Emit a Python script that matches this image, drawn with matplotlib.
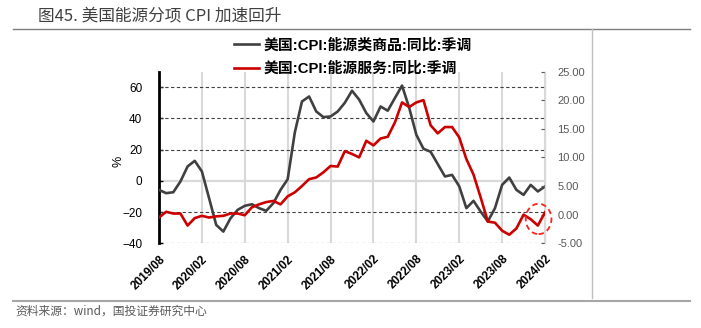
import matplotlib
matplotlib.use('Agg')
import matplotlib.pyplot as plt
from matplotlib.patches import Ellipse
from matplotlib.lines import Line2D
from matplotlib.ticker import FuncFormatter
import numpy as np
import pandas as pd

# ---------------- data ----------------
months = list(pd.date_range('2019-08-01', periods=55, freq='MS').strftime('%Y/%m'))
tick_labels = ['2019/08', '2020/02', '2020/08', '2021/02', '2021/08',
               '2022/02', '2022/08', '2023/02', '2023/08', '2024/02']
energy_goods = [-5.8, -7.9, -7.3, -0.4, 9.2, 12.8, 6, -11, -28.2, -32.5,
                -24, -18.6, -16, -15, -17.5, -19.2, -14.3, -5.8, 1, 31,
                50.8, 54, 44.4, 40.8, 41.2, 44.4, 50, 57.7, 52, 43.4,
                38, 47.6, 44.9, 53, 61, 46.8, 29.5, 20.5, 18.6, 10.7,
                2.8, 3.8, -3.5, -17.5, -12.8, -19.7, -26, -17.5, -2.6, 2.1,
                -5.8, -9, -2.6, -6.8, -3.6]
energy_services = [-0.5, 0.5, 0.2, 0.2, -1.9, -0.6, -0.2, -0.5, -0.3, -0.2,
                   0.2, 0.2, -0.1, 1.3, 1.8, 2.2, 2.4, 1.8, 3.2, 3.9,
                   5.0, 6.2, 6.5, 7.4, 8.5, 8.4, 11.1, 10.6, 10.0, 12.9,
                   12.1, 13.3, 13.6, 16.1, 19.6, 18.8, 19.6, 20.0, 15.6, 14.2,
                   15.3, 15.3, 13.5, 9.7, 7.0, 3.0, -1.2, -1.4, -2.8, -3.5,
                   -2.4, 0.0, -0.8, -1.9, 0.4]
label_goods = '美国:CPI:能源类商品:同比:季调'
label_services = '美国:CPI:能源服务:同比:季调'
left_ticks = [-40, -20, 0, 20, 40, 60]
right_ticks = [-5, 0, 5, 10, 15, 20, 25]
title = '图45. 美国能源分项 CPI 加速回升'
source = '资料来源：wind，国投证券研究中心'

# ---------------- figure ----------------
W, H = 701, 328
CJK = ['Liberation Sans', 'Noto Sans CJK SC', 'DejaVu Sans']
plt.rcParams['font.family'] = CJK
fig = plt.figure(figsize=(W / 100, H / 100), dpi=100)

x0, x1, ytop, ybot = 159, 545, 71.5, 243.3
ax = fig.add_axes([x0 / W, 1 - ybot / H, (x1 - x0) / W, (ybot - ytop) / H])
ax2 = ax.twinx()

x = np.arange(len(months))
ax.set_xlim(0, len(months) - 1)
ax.set_ylim(-40, 70)
ax2.set_ylim(-5, 25)

# grid
for yv in left_ticks:
    if yv == 0:
        ax.axhline(yv, color='#d9d9d9', lw=1.6, zorder=0.5)
    else:
        ax.axhline(yv, color='#404040', lw=0.8, ls=(0, (3, 2.2)), zorder=0.6)
tick_pos = [months.index(t) for t in tick_labels]
ax.set_xticks(tick_pos)
ax.set_xticklabels(tick_labels, rotation=45, ha='right', va='top',
                   rotation_mode='anchor', fontweight='bold', fontsize=8.5)
ax.xaxis.grid(True, color='#d9d9d9', lw=1.5, zorder=0.4)
ax.set_axisbelow(True)
ax.tick_params(axis='x', length=0, pad=7)

ax.set_yticks(left_ticks)
ax.tick_params(axis='y', direction='in', length=3, width=1, color='black',
               labelsize=8.5, pad=12)
ax.yaxis.set_major_formatter(FuncFormatter(lambda v, p: f'{v:.0f}'.replace('-', '\u2212')))

ax2.set_yticks(right_ticks)
ax2.yaxis.set_major_formatter(FuncFormatter(lambda v, p: f'{v:.2f}'))
ax2.tick_params(axis='y', direction='in', length=3, width=0.8, color='#595959',
                labelsize=8, labelcolor='#595959', pad=9)

for s in ['top', 'right', 'bottom']:
    ax.spines[s].set_visible(False)
ax.spines['left'].set_linewidth(2)
ax.spines['left'].set_color('black')
for s in ['top', 'left', 'bottom']:
    ax2.spines[s].set_visible(False)
ax2.spines['right'].set_color('#d9d9d9')
ax2.spines['right'].set_linewidth(1)

l1, = ax.plot(x, energy_goods, color='#404040', lw=1.9, zorder=3)
l2, = ax2.plot(x, energy_services, color='#cc0000', lw=1.9, zorder=3)

# dashed highlight circle around the latest services reading
ell = Ellipse((53.1, -0.75), width=3.6, height=5.3, fill=False,
              edgecolor='#ff2020', lw=1.3, ls=(0, (3, 2)), clip_on=False, zorder=4)
ax2.add_patch(ell)

ax.set_ylabel('%', fontsize=9)
ax.yaxis.set_label_coords((125 - x0) / (x1 - x0), (ybot - 161) / (ybot - ytop))

fig.legend([l1, l2], [label_goods, label_services], loc='upper left',
           bbox_to_anchor=(234 / W, 1 - 38 / H), frameon=False,
           prop={'family': CJK, 'weight': 'bold', 'size': 10.7},
           handlelength=1.7, handletextpad=0.3, labelspacing=0.62,
           borderpad=0, borderaxespad=0)

# title, rules, source
fig.text(38 / W, 1 - 16 / H, title, fontsize=12, va='center', color='#404040',
         family=['Noto Sans CJK SC', 'DejaVu Sans'])
fig.add_artist(Line2D([13 / W, 690 / W], [1 - 29 / H] * 2, color='#7f7f7f', lw=1))
fig.add_artist(Line2D([13 / W, 690 / W], [1 - 300.7 / H] * 2, color='#a6a6a6', lw=1.5))
fig.add_artist(Line2D([592.3 / W] * 2, [1 - 29 / H, 1 - 298 / H], color='#bfbfbf', lw=1))
fig.text(15 / W, 1 - 311.5 / H, source, fontsize=8.5, va='center', color='#595959',
         family=['Noto Sans CJK SC', 'DejaVu Sans'])

fig.savefig('out.png', dpi=100)
